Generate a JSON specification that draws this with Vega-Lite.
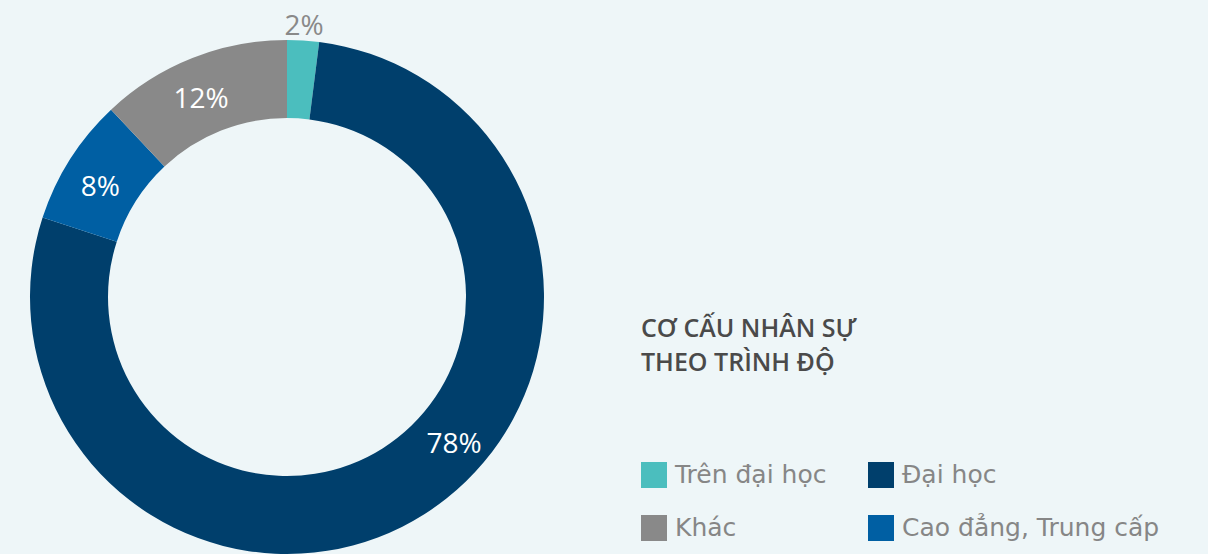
{
  "$schema": "https://vega.github.io/schema/vega-lite/v6.json",
  "width": 574,
  "height": 594,
  "padding": {"left": 0, "top": 0, "right": 200, "bottom": 0},
  "autosize": {"type": "pad"},
  "background": "#EEF6F8",
  "config": {"view": {"stroke": null}, "font": "Open Sans"},
  "data": {
    "values": [
      {"cat": "Trên đại học", "share": 0.02, "o": 1},
      {"cat": "Đại học", "share": 0.78, "o": 2},
      {"cat": "Cao đẳng, Trung cấp", "share": 0.08, "o": 3},
      {"cat": "Khác", "share": 0.12, "o": 4}
    ]
  },
  "encoding": {
    "theta": {"field": "share", "type": "quantitative", "stack": true},
    "order": {"field": "o", "type": "quantitative"}
  },
  "layer": [
    {
      "mark": {"type": "arc", "outerRadius": 257, "innerRadius": 179},
      "encoding": {
        "color": {
          "field": "cat",
          "type": "nominal",
          "scale": {
            "domain": ["Trên đại học", "Đại học", "Khác", "Cao đẳng, Trung cấp"],
            "range": ["#4BBEBE", "#003F6C", "#898989", "#005FA3"]
          },
          "legend": {
            "title": ["CƠ CẤU NHÂN SỰ", "THEO TRÌNH ĐỘ"],
            "orient": "none",
            "legendX": 641,
            "legendY": 317,
            "direction": "horizontal",
            "columns": 2,
            "columnPadding": 41,
            "rowPadding": 27,
            "symbolType": "square",
            "symbolSize": 676,
            "symbolStrokeWidth": 0,
            "symbolOpacity": 1,
            "labelFont": "DejaVu Sans",
            "labelFontSize": 25,
            "labelColor": "#868686",
            "labelOffset": 8,
            "labelLimit": 400,
            "titleFont": "Open Sans",
            "titleFontSize": 25,
            "titleFontWeight": 600,
            "titleColor": "#4A4A4A",
            "titleLineHeight": 34,
            "titlePadding": 86,
            "titleLimit": 500
          }
        }
      }
    },
    {
      "mark": {"type": "text", "radius": 217, "thetaOffset": -0.03, "dy": 2, "fontSize": 28, "fontWeight": 500, "fill": "#FFFFFF", "font": "Open Sans"},
      "encoding": {
        "text": {"field": "share", "type": "quantitative", "format": ".0%"},
        "opacity": {
          "condition": {"test": "datum.cat === 'Khác' || datum.cat === 'Cao đẳng, Trung cấp'", "value": 1},
          "value": 0
        }
      }
    },
    {
      "mark": {"type": "text", "radius": 222, "thetaOffset": -0.286, "dy": 2, "fontSize": 28, "fontWeight": 500, "fill": "#FFFFFF", "font": "Open Sans"},
      "encoding": {
        "text": {"field": "share", "type": "quantitative", "format": ".0%"},
        "opacity": {
          "condition": {"test": "datum.cat === 'Đại học'", "value": 1},
          "value": 0
        }
      }
    },
    {
      "mark": {"type": "text", "radius": 273, "dy": 2, "fontSize": 28, "fontWeight": 500, "fill": "#898989", "font": "Open Sans"},
      "encoding": {
        "text": {"field": "share", "type": "quantitative", "format": ".0%"},
        "opacity": {
          "condition": {"test": "datum.cat === 'Trên đại học'", "value": 1},
          "value": 0
        }
      }
    }
  ]
}
